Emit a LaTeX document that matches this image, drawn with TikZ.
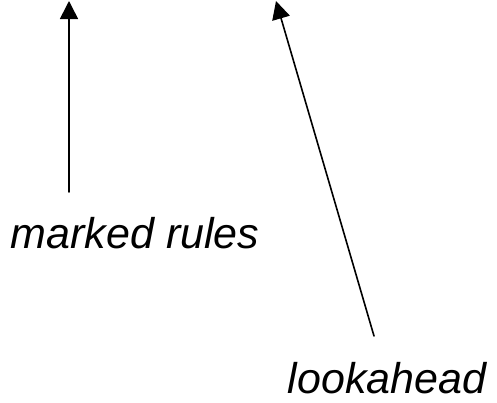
\documentclass[tikz,border=0pt]{standalone}
\usepackage{fontspec}
\setmainfont{Liberation Sans}
\usetikzlibrary{arrows.meta}

\begin{document}
\begin{tikzpicture}[x=1pt, y=-1pt, >={Triangle[width=18pt,length=18pt]}, line cap=round]

	% --- Rahmen ---
	\useasboundingbox (0,0) rectangle (497,402);

	% --- Beschriftungen ---
	\tikzset{lbl/.style={anchor=base, inner sep=0pt, font=\fontsize{43}{50}\selectfont\itshape}}
	\node[lbl] (rules) at (135,248) {marked rules};
	\node[lbl] (look) at (387,393) {lookahead};

	% --- Pfeilenden ---
	\coordinate (rulesTail) at (69,192);
	\coordinate (rulesTip) at (69,1);
	\coordinate (lookTail) at (374,336);
	\coordinate (lookTip) at (276,1);

	% --- Pfeile ---
	\draw[->, line width=1.6pt] (rulesTail) -- (rulesTip);
	\draw[->, line width=1.6pt] (lookTail) -- (lookTip);

\end{tikzpicture}
\end{document}
